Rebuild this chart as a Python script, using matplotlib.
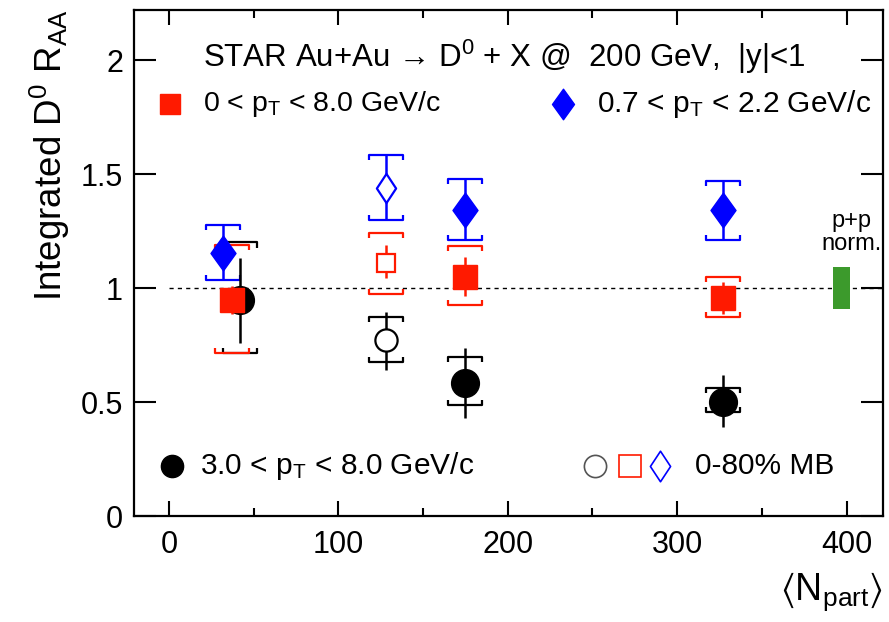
import numpy as np
import matplotlib
matplotlib.use("Agg")
import matplotlib.pyplot as plt
from matplotlib.path import Path

plt.rcParams['font.family'] = ['Liberation Sans', 'DejaVu Sans']
plt.rcParams['mathtext.default'] = 'regular'

# ---- data ----
# 3.0 < pT < 8.0 GeV/c (black circles)
npart_hi = [42, 175, 327]
raa_hi = [0.947, 0.583, 0.500]
stat_hi_lo = [0.187, 0.153, 0.110]
stat_hi_up = [0.183, 0.154, 0.118]
sys_hi_lo = [0.232, 0.096, 0.044]
sys_hi_up = [0.253, 0.114, 0.061]

# 0 < pT < 8.0 GeV/c (red squares)
npart_all = [37, 175, 327]
raa_all = [0.947, 1.048, 0.956]
stat_all_lo = [0.060, 0.083, 0.070]
stat_all_up = [0.060, 0.088, 0.070]
sys_all_lo = [0.232, 0.123, 0.083]
sys_all_up = [0.243, 0.136, 0.092]

# 0.7 < pT < 2.2 GeV/c (blue diamonds)
npart_lo = [32, 175, 327]
raa_lo = [1.153, 1.342, 1.342]
stat_lo_lo = [0.118, 0.131, 0.131]
stat_lo_up = [0.123, 0.136, 0.127]
sys_lo_lo = [0.118, 0.131, 0.131]
sys_lo_up = [0.123, 0.136, 0.127]

# 0-80% MB (open markers): order = [3-8 black, 0-8 red, 0.7-2.2 blue]
npart_mb = 128
raa_mb = [0.772, 1.110, 1.439]
stat_mb_lo = [0.132, 0.066, 0.141]
stat_mb_up = [0.123, 0.079, 0.144]
sys_mb_lo = [0.097, 0.136, 0.141]
sys_mb_up = [0.101, 0.131, 0.144]

pp_norm_x = 397
pp_norm_unc = 0.093

xticks = [0, 100, 200, 300, 400]
yticks = [0, 0.5, 1, 1.5, 2]
ytick_labels = ['0', '0.5', '1', '1.5', '2']

RED = '#ff1a00'
BLUE = '#0000ff'
BLACK = '#000000'
GREEN = '#3c9a2c'

# wide (ROOT-style) diamond marker
DIAM = Path([(0, 1), (0.72, 0), (0, -1), (-0.72, 0), (0, 1)],
            [Path.MOVETO, Path.LINETO, Path.LINETO, Path.LINETO, Path.CLOSEPOLY])
DIAM_O = Path([(0, 1), (0.66, 0), (0, -1), (-0.66, 0), (0, 1)],
              [Path.MOVETO, Path.LINETO, Path.LINETO, Path.LINETO, Path.CLOSEPOLY])

fig = plt.figure(figsize=(8.89, 6.22), dpi=100)
ax = fig.add_axes([134/889, 1-516/622, 749/889, 506/622])
ax.set_xlim(-20.6, 421.5)
ax.set_ylim(0, 2.22)

# unity line
ax.plot([0, 421.5], [1, 1], ls=(0, (3, 3)), color='black', lw=1.0, zorder=1)

# p+p normalization box
ax.bar([pp_norm_x], [2*pp_norm_unc], bottom=[1-pp_norm_unc], width=10,
       color=GREEN, zorder=2)
ax.text(403, 1.295, 'p+p', ha='center', va='center', fontsize=17)
ax.text(403, 1.195, 'norm.', ha='center', va='center', fontsize=17)

BW = 10.0   # bracket half width (in Npart)
BT = 0.022  # bracket tick length


def brackets(x, y, lo, up, color):
    for xi, yi, l, u in zip(x, y, lo, up):
        yt = yi + u
        yb = yi - l
        ax.plot([xi-BW, xi-BW, xi+BW, xi+BW], [yt-BT, yt, yt, yt-BT],
                color=color, lw=1.6, solid_capstyle='butt', zorder=3)
        ax.plot([xi-BW, xi-BW, xi+BW, xi+BW], [yb+BT, yb, yb, yb+BT],
                color=color, lw=1.6, solid_capstyle='butt', zorder=3)


def series(x, y, slo, sup, ylo, yup, color, marker, ms, filled):
    brackets(x, y, ylo, yup, color)
    ax.errorbar(x, y, yerr=[slo, sup], fmt='none', ecolor=color,
                elinewidth=1.8, capsize=0, zorder=4)
    if filled:
        ax.plot(x, y, ls='none', marker=marker, ms=ms, color=color,
                mec=color, zorder=5)
    else:
        ax.plot(x, y, ls='none', marker=marker, ms=ms, mfc='white',
                mec=color, mew=1.6, zorder=5)


series(npart_lo, raa_lo, stat_lo_lo, stat_lo_up, sys_lo_lo, sys_lo_up,
       BLUE, DIAM, 25, True)
series(npart_hi, raa_hi, stat_hi_lo, stat_hi_up, sys_hi_lo, sys_hi_up,
       BLACK, 'o', 20, True)
series(npart_all, raa_all, stat_all_lo, stat_all_up, sys_all_lo, sys_all_up,
       RED, 's', 17, True)

mb_colors = [BLACK, RED, BLUE]
mb_markers = ['o', 's', DIAM_O]
mb_ms = [16, 13, 21]
for i in range(3):
    series([npart_mb], [raa_mb[i]], [stat_mb_lo[i]], [stat_mb_up[i]],
           [sys_mb_lo[i]], [sys_mb_up[i]], mb_colors[i], mb_markers[i],
           mb_ms[i], False)

# ---- legend / annotations (axes coords) ----
FS = 21.5
ax.text(0.092, 0.907, 'STAR Au+Au \u2192 D$^{0}$ + X @  200 GeV,  |y|<1',
        transform=ax.transAxes, ha='left', va='center', fontsize=22.5)
ax.plot([0.048], [0.814], transform=ax.transAxes, marker='s', ms=15,
        color=RED, ls='none', clip_on=False)
ax.text(0.092, 0.814, r'0 < p$_{T}$ < 8.0 GeV/c', transform=ax.transAxes,
        ha='left', va='center', fontsize=20.5)
ax.plot([0.573], [0.814], transform=ax.transAxes, marker=DIAM, ms=22,
        color=BLUE, ls='none')
ax.text(0.618, 0.814, r'0.7 < p$_{T}$ < 2.2 GeV/c', transform=ax.transAxes,
        ha='left', va='center', fontsize=FS)
ax.plot([0.051], [0.099], transform=ax.transAxes, marker='o', ms=16,
        color=BLACK, ls='none')
ax.text(0.088, 0.099, r'3.0 < p$_{T}$ < 8.0 GeV/c', transform=ax.transAxes,
        ha='left', va='center', fontsize=FS)
ax.plot([0.615], [0.099], transform=ax.transAxes, marker='o', ms=16,
        mfc='white', mec='#555555', mew=1.2, ls='none')
ax.plot([0.662], [0.099], transform=ax.transAxes, marker='s', ms=16,
        mfc='white', mec=RED, mew=1.2, ls='none')
ax.plot([0.702], [0.099], transform=ax.transAxes, marker=DIAM_O, ms=22,
        mfc='white', mec=BLUE, mew=1.2, ls='none')
ax.text(0.749, 0.099, '0-80% MB', transform=ax.transAxes,
        ha='left', va='center', fontsize=FS)

# ---- axes styling ----
ax.set_xticks(xticks)
ax.set_xticks([50, 150, 250, 350], minor=True)
ax.set_yticks(yticks)
ax.set_yticklabels(ytick_labels)
ax.tick_params(axis='both', which='both', direction='in', top=True,
               right=True, labelsize=22, width=1.5)
ax.tick_params(axis='x', which='major', length=11, pad=10)
ax.tick_params(axis='x', which='minor', length=5.5)
ax.tick_params(axis='y', which='major', length=16, pad=8)
for s in ax.spines.values():
    s.set_linewidth(1.6)

fig.text(50/889, 1-10/622, r'Integrated D$^{0}$ R$_{AA}$', rotation=90,
         ha='center', va='top', fontsize=26.5)
fig.text(883/889, 1-592/622, r'$\langle$N$_{part}\rangle$', ha='right',
         va='center', fontsize=27)

fig.savefig('out.png', dpi=100)
